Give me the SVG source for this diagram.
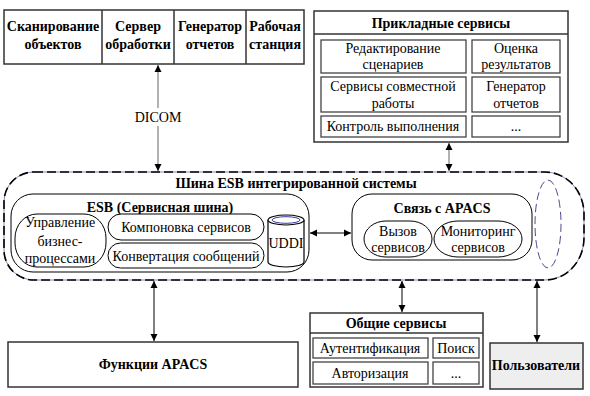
<svg xmlns="http://www.w3.org/2000/svg" width="590" height="396" viewBox="0 0 590 396">
<defs>
<style>
text{font-family:"Liberation Serif","Times New Roman",serif;font-size:14px;fill:#000;text-anchor:middle}
.b{font-weight:bold}
.box{fill:#fff;stroke:#333;stroke-width:1.5}
.ibox{fill:#fff;stroke:#444;stroke-width:1.3}
.rb{fill:#fff;stroke:#000;stroke-width:1}
.ln{stroke:#000;stroke-width:1;fill:none}
.gl{stroke:#888;stroke-width:1.3;fill:none}
</style>
<marker id="ah" viewBox="0 0 10 10" refX="10" refY="5" markerWidth="7" markerHeight="9" markerUnits="userSpaceOnUse" orient="auto-start-reverse">
<path d="M0,0 L10,5 L0,10 Z" fill="#000"/>
</marker>
</defs>

<g id="bus">
<path d="M34 172 H545 A39 42 0 0 1 584 214 V238 A39 42 0 0 1 545 280 H34 A30 30 0 0 1 4 250 V202 A30 30 0 0 1 34 172 Z" fill="#fff" stroke="#6a6aa0" stroke-width="0.8"/>
<path d="M34 172 H545 A39 42 0 0 1 584 214 V238 A39 42 0 0 1 545 280 H34 A30 30 0 0 1 4 250 V202 A30 30 0 0 1 34 172 Z" fill="none" stroke="#000" stroke-width="1.6" stroke-dasharray="9 4"/>
<ellipse cx="548" cy="224" rx="13" ry="44" fill="none" stroke="#4a4a90" stroke-width="1" stroke-dasharray="8 4"/>
<text class="b" x="296" y="188">Шина ESB интегрированной системы</text>
</g>

<g id="esb">
<rect x="11" y="194" width="298" height="78" rx="22" class="rb"/>
<text class="b" x="160" y="212">ESB (Сервисная шина)</text>
</g>
<g id="bpm">
<rect x="15" y="214" width="91" height="53" rx="22" ry="24" class="rb"/>
<text x="60" y="227">Управление</text>
<text x="60" y="246">бизнес-</text>
<text x="60" y="263">процессами</text>
</g>
<g id="compose">
<rect x="108" y="214" width="156" height="26" rx="13" class="rb"/>
<text x="186" y="232">Компоновка сервисов</text>
</g>
<g id="convert">
<rect x="108" y="243" width="156" height="25" rx="12.5" class="rb"/>
<text x="186" y="261">Конвертация сообщений</text>
</g>
<g id="uddi">
<path d="M268 220 V262 A18 5 0 0 0 304 262 V220" fill="#fff" stroke="#000" stroke-width="1.2"/>
<ellipse cx="286" cy="220" rx="18" ry="5" fill="#fff" stroke="#000" stroke-width="1.2"/>
<ellipse cx="286" cy="220" rx="14" ry="3.3" fill="none" stroke="#3a3aa0" stroke-width="1"/>
<text x="286" y="248">UDDI</text>
</g>

<g id="apacs-link">
<rect x="352" y="194" width="180" height="66" rx="20" class="rb"/>
<text class="b" x="442" y="213">Связь с APACS</text>
</g>
<g id="call">
<rect x="364" y="221" width="68" height="36" rx="22" ry="18" class="rb"/>
<text x="398" y="236">Вызов</text>
<text x="398" y="252">сервисов</text>
</g>
<g id="monitor">
<rect x="434" y="221" width="88" height="36" rx="24" ry="18" class="rb"/>
<text x="478" y="236">Мониторинг</text>
<text x="478" y="252">сервисов</text>
</g>

<g id="top-left">
<rect x="4" y="10" width="300" height="54" class="box"/>
<line x1="102" y1="10" x2="102" y2="64" stroke="#333" stroke-width="1.5"/>
<line x1="174" y1="10" x2="174" y2="64" stroke="#333" stroke-width="1.5"/>
<line x1="246" y1="10" x2="246" y2="64" stroke="#333" stroke-width="1.5"/>
<text class="b" x="53" y="31">Сканирование</text>
<text class="b" x="53" y="49">объектов</text>
<text class="b" x="138" y="31">Сервер</text>
<text class="b" x="138" y="49">обработки</text>
<text class="b" x="210" y="31">Генератор</text>
<text class="b" x="210" y="49">отчетов</text>
<text class="b" x="275" y="31">Рабочая</text>
<text class="b" x="275" y="49">станция</text>
</g>

<g id="applied">
<rect x="314" y="11" width="254" height="131" class="box"/>
<line x1="314" y1="34" x2="568" y2="34" stroke="#333" stroke-width="1.5"/>
<text class="b" x="441" y="28">Прикладные сервисы</text>
<rect x="321" y="40" width="145" height="33" class="ibox"/>
<text x="393" y="53">Редактирование</text>
<text x="393" y="69">сценариев</text>
<rect x="321" y="77" width="145" height="35" class="ibox"/>
<text x="393" y="91">Сервисы совместной</text>
<text x="393" y="108">работы</text>
<rect x="321" y="116" width="145" height="21" class="ibox"/>
<text x="393" y="131">Контроль выполнения</text>
<rect x="472" y="40" width="88" height="33" class="ibox"/>
<text x="516" y="53">Оценка</text>
<text x="516" y="69">результатов</text>
<rect x="472" y="77" width="88" height="35" class="ibox"/>
<text x="516" y="91">Генератор</text>
<text x="516" y="108">отчетов</text>
<rect x="472" y="116" width="88" height="21" class="ibox"/>
<text x="516" y="131">...</text>
</g>

<g id="apacs-func">
<rect x="8" y="342" width="290" height="45" class="box"/>
<text class="b" x="153" y="369">Функции APACS</text>
</g>

<g id="common">
<rect x="310" y="313" width="173" height="74" class="box"/>
<line x1="310" y1="333" x2="483" y2="333" stroke="#333" stroke-width="1.5"/>
<text class="b" x="396" y="328">Общие сервисы</text>
<rect x="313" y="338" width="115" height="20" class="ibox"/>
<text x="370" y="353">Аутентификация</text>
<rect x="433" y="338" width="46" height="20" class="ibox"/>
<text x="456" y="353">Поиск</text>
<rect x="313" y="362" width="115" height="22" class="ibox"/>
<text x="370" y="378">Авторизация</text>
<rect x="433" y="362" width="46" height="22" class="ibox"/>
<text x="456" y="378">...</text>
</g>

<g id="users">
<rect x="490" y="343" width="93" height="46" fill="#eeeeee" stroke="#333" stroke-width="1.5"/>
<text class="b" x="536" y="370">Пользователи</text>
</g>

<g id="connectors">
<line x1="158" y1="65" x2="158" y2="171" class="gl" marker-start="url(#ah)" marker-end="url(#ah)"/>
<rect x="134" y="108" width="48" height="18" fill="#fff"/>
<text x="158" y="122">DICOM</text>
<line x1="449" y1="143" x2="449" y2="171" class="gl" marker-start="url(#ah)" marker-end="url(#ah)"/>
<line x1="310" y1="233" x2="351" y2="233" class="ln" marker-start="url(#ah)" marker-end="url(#ah)"/>
<line x1="154" y1="281" x2="154" y2="341" class="ln" marker-start="url(#ah)" marker-end="url(#ah)"/>
<line x1="402" y1="281" x2="402" y2="312" class="ln" marker-start="url(#ah)" marker-end="url(#ah)"/>
<line x1="537" y1="281" x2="537" y2="342" class="ln" marker-start="url(#ah)" marker-end="url(#ah)"/>
</g>
</svg>
